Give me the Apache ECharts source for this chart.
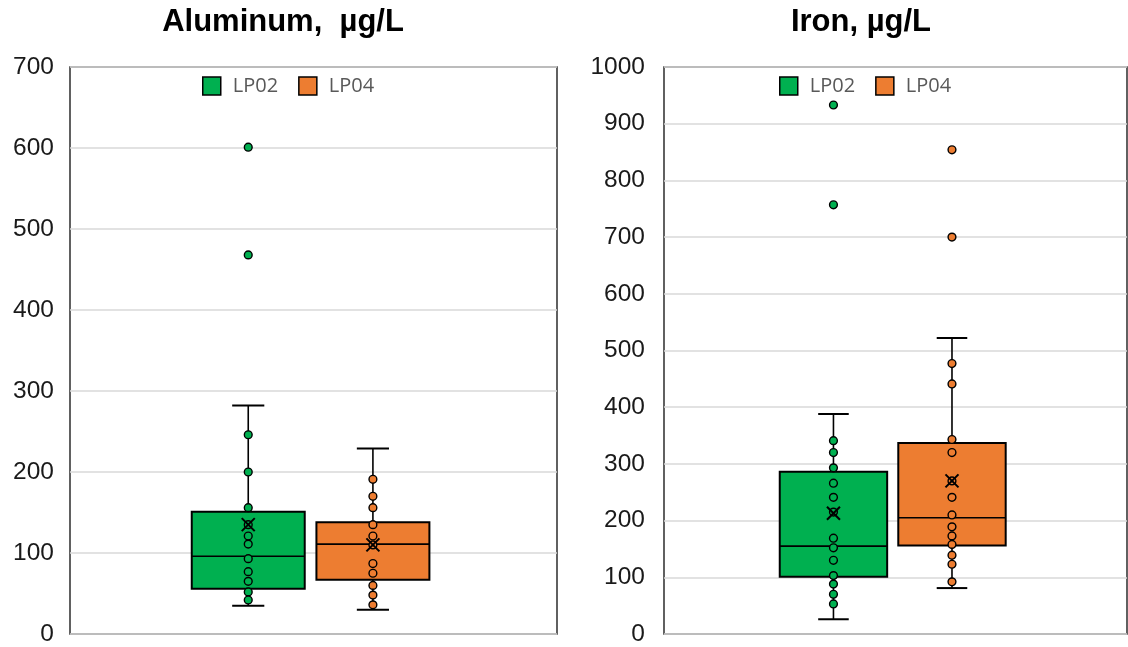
<!DOCTYPE html>
<html><head><meta charset="utf-8">
<script src="https://cdn.jsdelivr.net/npm/echarts@6/dist/echarts.min.js"></script>
<style>html,body{margin:0;padding:0;background:#fff}#c{width:1128px;height:647px}</style>
</head><body><div id="c"></div>
<script>
// ---- data ----
const groups = ['LP02', 'LP04'];
const groupColors = ['#00B050', '#ED7D31'];
const titles = ['Aluminum,  \u00b5g/L', 'Iron, \u00b5g/L'];
const alTicks = [0, 700, 100];   // min, max, interval
const feTicks = [0, 1000, 100];
// box stats: [lower whisker, Q1, median, Q3, upper whisker, mean]
const alLP02Box = [35, 56, 96, 151, 282, 135];
const alLP04Box = [30, 67, 111, 138, 229, 110];
const feLP02Box = [26, 101, 155, 286, 388, 213];
const feLP04Box = [81, 156, 205, 337, 522, 270];
// individual points (inner points and outliers)
const alLP02Pts = [601, 468, 246, 200, 156, 135, 121, 111, 93, 77, 65, 52, 42];
const alLP04Pts = [191, 170, 156, 135, 121, 110, 87, 75, 60, 48, 36];
const feLP02Pts = [933, 757, 341, 320, 293, 266, 241, 215, 169, 152, 130, 103, 88, 70, 53];
const feLP04Pts = [854, 700, 477, 441, 343, 320, 270, 241, 210, 189, 173, 158, 139, 123, 92];

// ---- layout/style ----
const centerFrac = [-0.134, 0.122];
const boxFrac = 0.232;
const capFrac = 0.066;

function makeRender(box, pts, gi) {
  return function (params, api) {
    const band = api.size([1, 0])[0];
    const cx = api.coord([0, 0])[0] + centerFrac[gi] * band;
    const hw = boxFrac * band / 2, cw = capFrac * band / 2;
    const y = v => api.coord([0, v])[1];
    const [mn, q1, md, q3, mx, mean] = box;
    const ls = { stroke: '#000', lineWidth: 1.6 };
    const ch = [];
    ch.push({ type: 'line', shape: { x1: cx, y1: y(mx), x2: cx, y2: y(q3) }, style: ls });
    ch.push({ type: 'line', shape: { x1: cx, y1: y(q1), x2: cx, y2: y(mn) }, style: ls });
    ch.push({ type: 'line', shape: { x1: cx - cw, y1: y(mx), x2: cx + cw, y2: y(mx) }, style: { stroke: '#000', lineWidth: 2 } });
    ch.push({ type: 'line', shape: { x1: cx - cw, y1: y(mn), x2: cx + cw, y2: y(mn) }, style: { stroke: '#000', lineWidth: 2 } });
    ch.push({ type: 'rect', shape: { x: cx - hw, y: y(q3), width: 2 * hw, height: y(q1) - y(q3) },
      style: { fill: groupColors[gi], stroke: '#000', lineWidth: 2 } });
    ch.push({ type: 'line', shape: { x1: cx - hw, y1: y(md), x2: cx + hw, y2: y(md) }, style: { stroke: '#000', lineWidth: 1.6 } });
    pts.forEach(v => {
      ch.push({ type: 'circle', shape: { cx: cx, cy: y(v), r: 3.9 },
        style: { fill: groupColors[gi], stroke: '#000', lineWidth: 1.4 } });
    });
    const m = 6.5, my = y(mean);
    ch.push({ type: 'line', shape: { x1: cx - m, y1: my - m, x2: cx + m, y2: my + m }, style: { stroke: '#000', lineWidth: 2 } });
    ch.push({ type: 'line', shape: { x1: cx - m, y1: my + m, x2: cx + m, y2: my - m }, style: { stroke: '#000', lineWidth: 2 } });
    return { type: 'group', children: ch };
  };
}

const grids = [
  { left: 70, top: 67, width: 487, height: 567 },
  { left: 664, top: 67, width: 463, height: 567 }
];
const yTicks = [alTicks, feTicks];

const option = {
  animation: false,
  backgroundColor: '#fff',
  grid: grids.map(g => Object.assign({ show: true, borderColor: '#3a3a3a', borderWidth: 1.6, containLabel: false }, g)),
  xAxis: [0, 1].map(i => ({
    type: 'category', gridIndex: i, data: [''],
    axisLine: { show: false }, axisTick: { show: false }, axisLabel: { show: false }, splitLine: { show: false }
  })),
  yAxis: [0, 1].map(i => ({
    type: 'value', gridIndex: i, min: yTicks[i][0], max: yTicks[i][1], interval: yTicks[i][2],
    axisLine: { show: false }, axisTick: { show: false },
    axisLabel: { fontFamily: 'Liberation Sans, Arial', fontSize: 24.5, color: '#1a1a1a', margin: i === 0 ? 16 : 19,
      formatter: v => String(v) },
    splitLine: { lineStyle: { color: '#d9d9d9', width: 1.5 } }
  })),
  legend: [202, 779].map(l => ({
    left: l, top: 76, padding: 0, itemWidth: 18, itemHeight: 18, itemGap: 20, icon: 'rect', selectedMode: false,
    data: groups,
    itemStyle: { borderColor: '#000', borderWidth: 1.5 },
    textStyle: { fontFamily: 'Open Sans', fontSize: 20, color: '#595959', padding: [0, 0, 0, 7] }
  })),
  graphic: [
    { type: 'text', x: 283, y: 22, style: { text: titles[0], font: 'bold 31px "Liberation Sans", Arial', fill: '#000', align: 'center', verticalAlign: 'middle' } },
    { type: 'text', x: 861, y: 22, style: { text: titles[1], font: 'bold 31px "Liberation Sans", Arial', fill: '#000', align: 'center', verticalAlign: 'middle' } }
  ],
  series: [
    { name: 'LP02', type: 'custom', xAxisIndex: 0, yAxisIndex: 0, itemStyle: { color: groupColors[0] }, data: [[0, alLP02Box[4]]], encode: { x: 0, y: 1 }, renderItem: makeRender(alLP02Box, alLP02Pts, 0) },
    { name: 'LP04', type: 'custom', xAxisIndex: 0, yAxisIndex: 0, itemStyle: { color: groupColors[1] }, data: [[0, alLP04Box[4]]], encode: { x: 0, y: 1 }, renderItem: makeRender(alLP04Box, alLP04Pts, 1) },
    { name: 'LP02', type: 'custom', xAxisIndex: 1, yAxisIndex: 1, itemStyle: { color: groupColors[0] }, data: [[0, feLP02Box[4]]], encode: { x: 0, y: 1 }, renderItem: makeRender(feLP02Box, feLP02Pts, 0) },
    { name: 'LP04', type: 'custom', xAxisIndex: 1, yAxisIndex: 1, itemStyle: { color: groupColors[1] }, data: [[0, feLP04Box[4]]], encode: { x: 0, y: 1 }, renderItem: makeRender(feLP04Box, feLP04Pts, 1) }
  ]
};
const chart = echarts.init(document.getElementById('c'), null, { renderer: 'canvas' });
chart.setOption(option);
</script>
</body></html>
